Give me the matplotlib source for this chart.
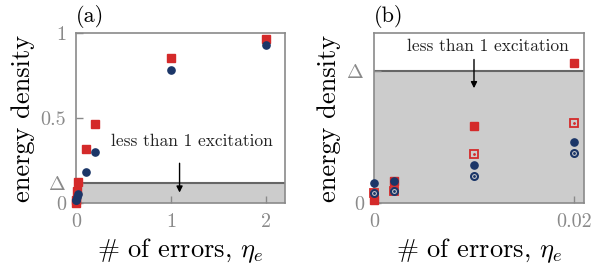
import matplotlib
matplotlib.use("Agg")
import matplotlib.pyplot as plt
import numpy as np

plt.rcParams['font.family'] = 'serif'
plt.rcParams['font.serif'] = ['cmr10']
plt.rcParams['mathtext.fontset'] = 'cm'
plt.rcParams['axes.unicode_minus'] = False

# threshold (less than 1 excitation)
DELTA = 0.118

# panel (a)
x_a = [0, 0.002, 0.01, 0.02, 0.1, 0.2, 1, 2]
red_a = [0.002, 0.02, 0.069, 0.125, 0.32, 0.465, 0.853, 0.965]
blue_a = [0.018, 0.02, 0.034, 0.054, 0.18, 0.30, 0.78, 0.93]

# panel (b), values in units of DELTA
x_b = [0, 0.002, 0.01, 0.02]
red_fill_b = [0.02, 0.17, 0.586, 1.063]
blue_fill_b = [0.15, 0.17, 0.29, 0.46]
red_open_b = [0.078, 0.093, 0.369, 0.606]
blue_open_b = [0.078, 0.093, 0.207, 0.379]

RED = '#d42a2a'
BLUE = '#1b3668'
GRAY = '#8a8a8a'
FILL = '#cccccc'
LINE = '#666666'

fig = plt.figure(figsize=(5.93, 2.64), dpi=100)
ax1 = fig.add_axes([0.1282, 0.2311, 0.3524, 0.6439])
ax2 = fig.add_axes([0.6307, 0.2311, 0.3541, 0.6439])


def style(ax):
    for s in ax.spines.values():
        s.set_color(GRAY)
        s.set_linewidth(1.2)
    ax.tick_params(direction='in', length=5, width=1, color=GRAY,
                   labelcolor=GRAY, labelsize=14.5, pad=7)
    ax.set_ylabel('energy density', fontsize=19, labelpad=4)
    ax.set_xlabel(r'$\#$ of errors, $\eta_e$', fontsize=19, labelpad=4)


# (a)
ax1.axhspan(0, DELTA, color=FILL, zorder=0, lw=0)
ax1.axhline(DELTA, color=LINE, lw=1.5, zorder=1)
ax1.plot(x_a, red_a, 's', color=RED, ms=5.8, clip_on=False, zorder=3)
ax1.plot(x_a, blue_a, 'o', color=BLUE, ms=5.2, clip_on=False, zorder=4)
ax1.set_xlim(0, 2.2)
ax1.set_ylim(0, 1)
ax1.set_xticks([0, 1, 2])
ax1.set_xticklabels(['0', '1', '2'])
ax1.set_yticks([0, DELTA, 0.5, 1])
ax1.set_yticklabels(['0', r'$\Delta$', '0.5', '1'])
ax1.text(1.22, 0.365, 'less than 1 excitation', fontsize=12.5,
         ha='center', va='center', color='#222222')
ax1.annotate('', xy=(1.09, 0.045), xytext=(1.09, 0.25),
             arrowprops=dict(arrowstyle='-|>', color='black', lw=1,
                             mutation_scale=9))
style(ax1)
ax1.text(0.0, 1.03, '(a)', transform=ax1.transAxes, fontsize=16,
         ha='left', va='bottom')

# (b)
yb = lambda v: [t * DELTA for t in v]
ax2.axhspan(0, DELTA, color=FILL, zorder=0, lw=0)
ax2.axhline(DELTA, color=LINE, lw=1.5, zorder=1)
ax2.plot(x_b, yb(red_fill_b), 's', color=RED, ms=5.8, clip_on=False, zorder=3)
ax2.plot(x_b, yb(blue_fill_b), 'o', color=BLUE, ms=5.2, clip_on=False, zorder=4)
ax2.plot(x_b, yb(red_open_b), 's', mec=RED, mfc=FILL, mew=1.3, ms=6,
         clip_on=False, zorder=5)
ax2.plot(x_b, yb(red_open_b), '.', color=RED, ms=2, clip_on=False, zorder=5)
ax2.plot(x_b, yb(blue_open_b), 'o', mec=BLUE, mfc=FILL, mew=1.5, ms=5,
         clip_on=False, zorder=6)
ax2.plot(x_b, yb(blue_open_b), '.', color=BLUE, ms=2, clip_on=False, zorder=6)
ax2.set_xlim(0, 0.021)
ax2.set_ylim(0, 1.29 * DELTA)
ax2.set_xticks([0, 0.02])
ax2.set_xticklabels(['0', '0.02'])
ax2.set_yticks([0, DELTA])
ax2.set_yticklabels(['0', r'$\Delta$'])
ax2.text(0.01136, 1.19 * DELTA, 'less than 1 excitation', fontsize=12.5,
         ha='center', va='center', color='#222222')
ax2.annotate('', xy=(0.01, 0.85 * DELTA), xytext=(0.01, 1.11 * DELTA),
             arrowprops=dict(arrowstyle='-|>', color='black', lw=1,
                             mutation_scale=9))
style(ax2)
ax2.text(0.0, 1.03, '(b)', transform=ax2.transAxes, fontsize=16,
         ha='left', va='bottom')

fig.savefig('out.png', dpi=100)
